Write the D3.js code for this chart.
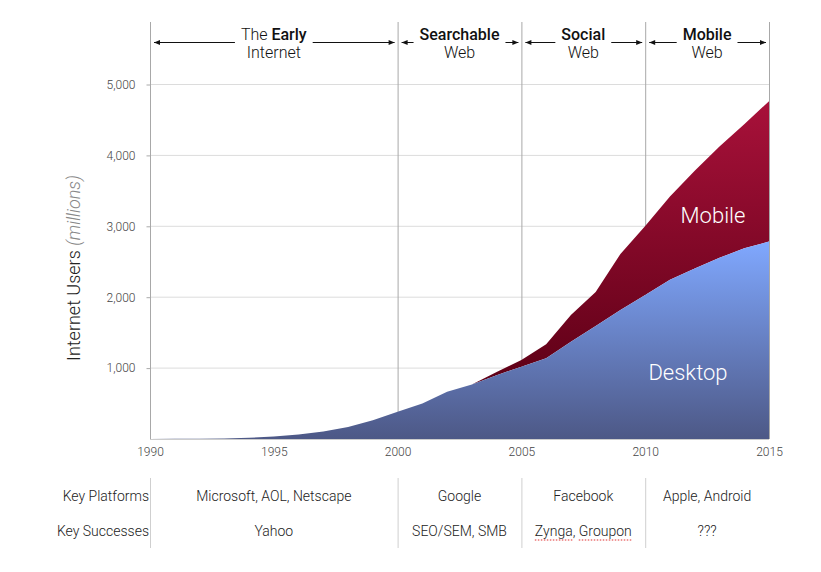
<!DOCTYPE html>
<html><head><meta charset="utf-8">
<script src="https://cdn.jsdelivr.net/npm/d3@7"></script>
<style>
body{margin:0;background:#fff;}
text{font-family:Roboto,"Liberation Sans",sans-serif;}
</style></head>
<body><svg id="c" width="821" height="572"></svg>
<script>
const years = d3.range(1990, 2016);
const desktop = [0,2,4,8,18,35,65,105,170,265,385,500,665,770,900,1020,1140,1370,1595,1820,2030,2245,2405,2555,2690,2785];
const mobile  = [null,null,null,null,null,null,null,null,null,null,null,null,null,0,45,95,195,380,480,790,975,1175,1380,1570,1750,1980];
const yTicks = [1000,2000,3000,4000,5000];
const xTicks = [1990,1995,2000,2005,2010,2015];
const eraBounds = [1990,2000,2005,2010,2015];
const eraBold = ["Early","Searchable","Social","Mobile"];
const eraPre = ["The ","","",""];
const eraLine2 = ["Internet","Web","Web","Web"];
const platforms = ["Microsoft, AOL, Netscape","Google","Facebook","Apple, Android"];
const successes = ["Yahoo","SEO/SEM, SMB","Zynga, Groupon","???"];

const svg = d3.select("#c");
const x = d3.scaleLinear().domain([1990,2015]).range([150,769]);
const y = d3.scaleLinear().domain([0,5000]).range([439,84.5]);

const defs = svg.append("defs");
const g1 = defs.append("linearGradient").attr("id","gd").attr("x1",0).attr("y1",0).attr("x2",0).attr("y2",1);
g1.append("stop").attr("offset","0%").attr("stop-color","#80a8ff");
g1.append("stop").attr("offset","100%").attr("stop-color","#4d5886");
const g2 = defs.append("linearGradient").attr("id","gm").attr("x1",0).attr("y1",0).attr("x2",0).attr("y2",1);
g2.append("stop").attr("offset","0%").attr("stop-color","#a8113a");
g2.append("stop").attr("offset","100%").attr("stop-color","#5e0016");

// horizontal gridlines
svg.append("g").selectAll("line").data(yTicks).join("line")
  .attr("x1",x(1990)).attr("x2",x(2015)).attr("y1",d=>y(d)).attr("y2",d=>y(d))
  .attr("stroke","#dcdcdc").attr("stroke-width",1);

// vertical era lines (behind areas)
svg.append("g").selectAll("line").data(eraBounds).join("line")
  .attr("x1",d=>x(d)+0.5).attr("x2",d=>x(d)+0.5).attr("y1",22).attr("y2",439)
  .attr("stroke","#a8a8a8").attr("stroke-width",1);

const data = years.map((yr,i)=>({yr, d:desktop[i], m:mobile[i]}));

// mobile area
svg.append("path").datum(data.filter(d=>d.m!==null))
  .attr("fill","url(#gm)")
  .attr("d", d3.area().x(d=>x(d.yr)).y0(d=>y(d.d)).y1(d=>y(d.d+d.m)));
// desktop area
svg.append("path").datum(data)
  .attr("fill","url(#gd)")
  .attr("d", d3.area().x(d=>x(d.yr)).y0(y(0)).y1(d=>y(d.d)));

// baseline
svg.append("line").attr("x1",x(1990)).attr("x2",x(2015)).attr("y1",439.5).attr("y2",439.5)
  .attr("stroke","#ccc");

// y axis
const yAxis = svg.append("g").attr("transform",`translate(${x(1990)+0.5},0)`)
  .call(d3.axisLeft(y).tickValues(yTicks).tickSize(4).tickPadding(11).tickFormat(d3.format(",")));
yAxis.select(".domain").remove();
yAxis.selectAll(".tick line").attr("stroke","#aaa");
yAxis.selectAll(".tick text").attr("font-size",12).attr("fill","#444").attr("font-family","Roboto,sans-serif").attr("font-weight",300);

// x axis labels
const xAxis = svg.append("g").attr("transform",`translate(0,439)`)
  .call(d3.axisBottom(x).tickValues(xTicks).tickSize(0).tickPadding(8).tickFormat(d3.format("d")));
xAxis.select(".domain").remove();
xAxis.selectAll(".tick text").attr("font-size",12).attr("fill","#444").attr("font-family","Roboto,sans-serif").attr("font-weight",300);

// y title
const yt = svg.append("text").attr("transform","translate(80,268) rotate(-90)")
  .attr("text-anchor","middle").attr("font-size",18).attr("font-weight",300);
yt.append("tspan").text("Internet Users ").attr("fill","#222");
yt.append("tspan").text("(millions)").attr("fill","#888").attr("font-style","italic");

// area labels
svg.append("text").attr("x",713).attr("y",223).attr("text-anchor","middle").attr("font-size",22).attr("font-weight",300).attr("fill","#fff").text("Mobile");
svg.append("text").attr("x",688).attr("y",380).attr("text-anchor","middle").attr("font-size",22).attr("font-weight",300).attr("fill","#fff").text("Desktop");

// era headers with arrows
const hdr = svg.append("g");
function arrow(x1,x2,dir){
  hdr.append("line").attr("x1",x1).attr("x2",x2).attr("y1",42.5).attr("y2",42.5).attr("stroke","#111").attr("stroke-width",1);
  const hx = dir<0?x1:x2;
  hdr.append("path").attr("d",`M${hx},42.5 L${hx-dir*6},40 L${hx-dir*6},45 Z`).attr("fill","#111");
}
for(let i=0;i<4;i++){
  const a = x(eraBounds[i]), b = x(eraBounds[i+1]);
  const cx = (a+b)/2;
  const t = hdr.append("text").attr("x",cx).attr("y",40).attr("text-anchor","middle").attr("font-size",16).attr("fill","#111");
  if(eraPre[i]) t.append("tspan").text(eraPre[i]).attr("font-weight",300);
  t.append("tspan").text(eraBold[i]).attr("font-weight",500);
  hdr.append("text").attr("x",cx).attr("y",58).attr("text-anchor","middle").attr("font-size",16).attr("font-weight",300).attr("fill","#111").text(eraLine2[i]);
  const w = t.node().getComputedTextLength();
  arrow(a+4, cx-w/2-6, -1);
  arrow(cx+w/2+6, b-3, 1);
}

// bottom table
const tb = svg.append("g");
tb.selectAll("line").data(eraBounds.slice(0,4)).join("line")
  .attr("x1",d=>x(d)+0.5).attr("x2",d=>x(d)+0.5).attr("y1",478).attr("y2",548)
  .attr("stroke","#cfcfcf");
tb.append("text").attr("x",149).attr("y",501).attr("text-anchor","end").attr("font-size",14).attr("font-weight",300).attr("fill","#222").text("Key Platforms");
tb.append("text").attr("x",149).attr("y",536).attr("text-anchor","end").attr("font-size",14).attr("font-weight",300).attr("fill","#222").text("Key Successes");
for(let i=0;i<4;i++){
  const cx = (x(eraBounds[i])+x(eraBounds[i+1]))/2;
  tb.append("text").attr("x",cx).attr("y",501).attr("text-anchor","middle").attr("font-size",14).attr("font-weight",300).attr("fill","#222").text(platforms[i]);
  const s = tb.append("text").attr("x",cx).attr("y",536).attr("text-anchor","middle").attr("font-size",14).attr("font-weight",300).attr("fill","#222").text(successes[i]);
  if(i===2){
    const words = successes[i].split(", ");
    const full = s.node().getComputedTextLength();
    const w1 = s.node().getSubStringLength(0, words[0].length);
    const start2 = successes[i].indexOf(words[1]);
    const x2s = s.node().getSubStringLength(0, start2);
    const left = cx - full/2;
    [[left, left+w1],[left+x2s, left+full]].forEach(([p,q])=>{
      tb.append("line").attr("x1",p).attr("x2",q).attr("y1",540).attr("y2",540)
        .attr("stroke","#e03030").attr("stroke-width",1.2).attr("stroke-dasharray","1.5,1.5");
    });
  }
}
</script></body></html>
